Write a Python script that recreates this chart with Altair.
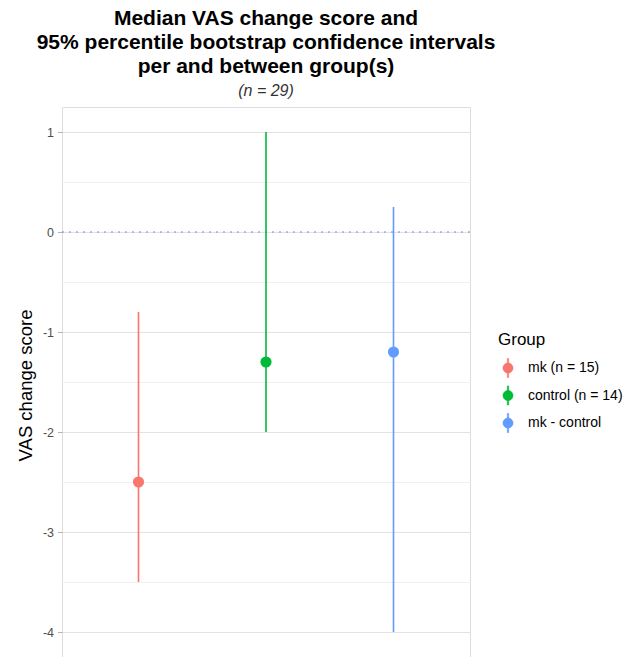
import altair as alt
import pandas as pd

groups = ["mk (n = 15)", "control (n = 14)", "mk - control"]
medians = [-2.5, -1.3, -1.2]
ci_low = [-3.5, -2.0, -4.0]
ci_high = [-0.8, 1.0, 0.25]
colors = ["#F8766D", "#00BA38", "#619CFF"]
ref_line = [0]

df = pd.DataFrame({"Group": groups, "median": medians, "lo": ci_low, "hi": ci_high})
zero_df = pd.DataFrame({"y": ref_line})

FONT = "Liberation Sans"

x_enc = alt.X("Group:N", sort=groups, scale=alt.Scale(type="point", padding=0.6), axis=None)
y_scale = alt.Scale(domain=[-4.25, 1.25], nice=False, zero=False)
color_scale = alt.Scale(domain=groups, range=colors)

tick_vals = [-4, -3.5, -3, -2.5, -2, -1.5, -1, -0.5, 0, 0.5, 1]

y_axis = alt.Axis(
    values=tick_vals,
    title="VAS change score",
    titleFont=FONT, titleFontSize=18.5, titleFontWeight="normal", titleColor="#000000",
    titleAngle=270, titleX=-37, titleY=278, titleBaseline="middle", titleAlign="center",
    labelExpr="datum.value % 1 == 0 ? '' + datum.value : ''",
    labelFont=FONT, labelFontSize=12.5, labelColor="#4D4D4D", labelPadding=4,
    ticks=True, tickSize=4.5, tickColor="#B3B3B3",
    tickOpacity={"condition": {"test": "datum.value % 1 != 0", "value": 0}, "value": 1},
    grid=True,
    gridColor={"condition": {"test": "datum.value % 1 != 0", "value": "#F0F0F0"}, "value": "#E3E3E3"},
    gridWidth=1,
    domain=False,
)

legend_symbol = ("M -0.53,0 A 0.53,0.53 0 1,1 0.53,0 A 0.53,0.53 0 1,1 -0.53,0 Z "
                 "M -0.07,-1 L 0.07,-1 L 0.07,1 L -0.07,1 Z")

legend = alt.Legend(
    title="Group", titleFont=FONT, titleFontSize=17, titleFontWeight="normal",
    titleColor="#000000", titlePadding=9,
    labelFont=FONT, labelFontSize=14, labelColor="#000000",
    symbolType=legend_symbol, symbolSize=361, symbolOpacity=1, symbolStrokeWidth=0.6,
    rowPadding=5.5, labelOffset=10,
    orient="none", legendX=436, legendY=225,
)

zero = alt.Chart(zero_df).mark_rule(color="#6F86D6", strokeDash=[2, 5], strokeWidth=1.2).encode(
    y=alt.Y("y:Q", scale=y_scale, axis=y_axis)
)

bars = alt.Chart(df).mark_rule(strokeWidth=1.6).encode(
    x=x_enc,
    y=alt.Y("lo:Q", scale=y_scale),
    y2="hi:Q",
    color=alt.Color("Group:N", scale=color_scale, sort=groups, legend=legend),
)

points = alt.Chart(df).mark_point(filled=True, size=125, opacity=1).encode(
    x=x_enc,
    y=alt.Y("median:Q", scale=y_scale),
    color=alt.Color("Group:N", scale=color_scale, sort=groups, legend=legend),
)

chart = alt.layer(zero, bars, points).properties(
    width=408,
    height=550,
    autosize=alt.AutoSizeParams(type="none"),
    padding={"left": 54, "top": 99, "right": 157, "bottom": 0},
    title=alt.Title(
        text=["Median VAS change score and",
              "95% percentile bootstrap confidence intervals",
              "per and between group(s)"],
        subtitle="(n = 29)",
        font=FONT, fontSize=21, fontWeight="bold", color="#000000",
        lineHeight=24, anchor="middle", frame="group",
        subtitleFont=FONT, subtitleFontSize=16, subtitleFontStyle="italic",
        subtitleColor="#333333", subtitlePadding=6, offset=8,
    ),
).configure_view(stroke="#B3B3B3", strokeWidth=1.2).configure(background="white")

chart.save("out.html", embed_options={"renderer": "svg", "actions": False})
